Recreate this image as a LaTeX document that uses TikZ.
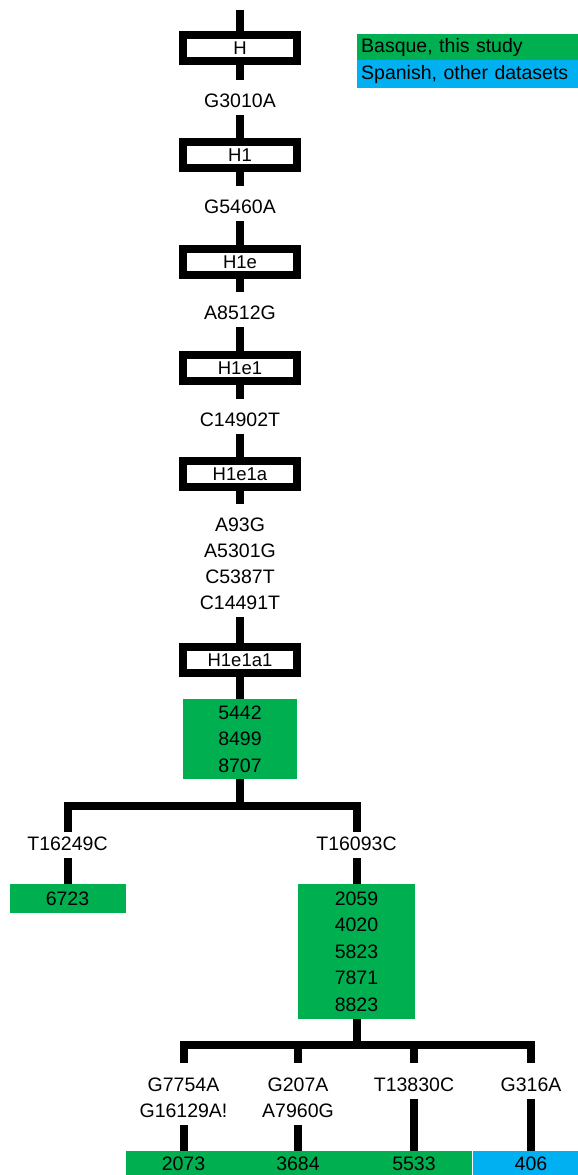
\documentclass[tikz,border=0pt]{standalone}
\usepackage{fontspec}
\setmainfont{Liberation Sans}
\definecolor{bgreen}{RGB}{0,176,80}
\definecolor{bblue}{RGB}{0,176,240}
\begin{document}
\begin{tikzpicture}[x=1pt,y=-1pt,
  hap/.style={draw, line width=8pt, fill=white, minimum width=114pt, minimum height=26pt, inner sep=0pt, font=\fontsize{18.5}{22}\selectfont},
  mut/.style={anchor=north, inner sep=0pt, align=center, font=\fontsize{19.5}{26}\selectfont},
  gbox/.style={fill=bgreen, inner sep=0pt, align=center, font=\fontsize{19.5}{26.3}\selectfont},
  bbox/.style={gbox, fill=bblue},
  leg/.style={anchor=north west, text width=225pt, inner xsep=4pt, inner ysep=0pt, align=left, font=\fontsize{19.5}{24}\selectfont},
  conn/.style={line width=8pt, line join=miter},
]
\useasboundingbox (0,0) rectangle (578,1175);
% legend
\node[leg, fill=bgreen, minimum height=26pt] (leg1) at (357,34) {Basque, this study};
\node[leg, fill=bblue, minimum height=28pt] (leg2) at (357,60) {Spanish, other datasets};
% haplogroup boxes
\node[hap] (H) at (240,48) {H};
\node[hap] (H1) at (240,155) {H1};
\node[hap] (H1e) at (240,262) {H1e};
\node[hap] (H1e1) at (240,368) {H1e1};
\node[hap] (H1e1a) at (240,474) {H1e1a};
\node[hap] (H1e1a1) at (240,660) {H1e1a1};
% mutation labels
\node[mut] (m1) at (240,94) {G3010A};
\node[mut] (m2) at (240,200) {G5460A};
\node[mut] (m3) at (240,306) {A8512G};
\node[mut] (m4) at (240,413) {C14902T};
\node[mut] (m5) at (240,518) {A93G\\A5301G\\C5387T\\C14491T};
% samples
\node[gbox, minimum width=114pt, minimum height=80pt] (g1) at (240,739) {5442\\8499\\8707};
\coordinate (j1) at (240,806);
\node[mut] (tl) at (67.5,837) {T16249C};
\node[mut] (tr) at (356.5,837) {T16093C};
\node[gbox, minimum width=116pt, minimum height=29pt] (s6723) at (67.5,898.5) {6723};
\node[gbox, minimum width=117pt, minimum height=135pt, font=\fontsize{19.5}{26.5}\selectfont] (g2) at (356.5,951.5) {2059\\4020\\5823\\7871\\8823};
\coordinate (j2) at (356.5,1045);
\node[mut] (la) at (183.5,1078) {G7754A\\G16129A!};
\node[mut] (lb) at (298,1078) {G207A\\A7960G};
\node[mut] (lc) at (414,1078) {T13830C};
\node[mut] (ld) at (531,1078) {G316A};
\node[gbox, minimum width=116pt, minimum height=26pt] (s2073) at (183.5,1164) {2073};
\node[gbox, minimum width=116pt, minimum height=26pt] (s3684) at (298,1164) {3684};
\node[gbox, minimum width=116pt, minimum height=26pt] (s5533) at (414,1164) {5533};
\node[bbox, minimum width=116pt, minimum height=26pt] (s406) at (531,1164) {406};
% connectors
\coordinate (top) at (240,10);
\draw[conn] (top) -- (H.north);
\draw[conn] (H.south) -- ([yshift=14pt]m1.north);
\draw[conn] ([yshift=-7pt]m1.south) -- (H1.north);
\draw[conn] (H1.south) -- ([yshift=14pt]m2.north);
\draw[conn] ([yshift=-7pt]m2.south) -- (H1e.north);
\draw[conn] (H1e.south) -- ([yshift=14pt]m3.north);
\draw[conn] ([yshift=-7pt]m3.south) -- (H1e1.north);
\draw[conn] (H1e1.south) -- ([yshift=14pt]m4.north);
\draw[conn] ([yshift=-7pt]m4.south) -- (H1e1a.north);
\draw[conn] (H1e1a.south) -- ([yshift=14pt]m5.north);
\draw[conn] ([yshift=-7pt]m5.south) -- (H1e1a1.north);
\draw[conn] (H1e1a1.south) -- (g1.north);
\draw[conn] (g1.south) -- (j1);
\draw[conn] ([yshift=5pt]tl.north) |- (j1) -| ([yshift=5pt]tr.north);
\draw[conn] ([yshift=-7pt]tl.south) -- (s6723.north);
\draw[conn] ([yshift=-7pt]tr.south) -- (g2.north);
\draw[conn] (g2.south) -- (j2);
\draw[conn] ([yshift=15pt]la.north) |- (j2) -| ([yshift=15pt]ld.north);
\draw[conn] ([yshift=15pt]lb.north) -- (lb.north |- j2);
\draw[conn] ([yshift=15pt]lc.north) -- (lc.north |- j2);
\draw[conn] ([yshift=-7pt]la.south) -- (s2073.north);
\draw[conn] ([yshift=-7pt]lb.south) -- (s3684.north);
\draw[conn] ([yshift=-7pt]lc.south) -- (s5533.north);
\draw[conn] ([yshift=-7pt]ld.south) -- (s406.north);
\end{tikzpicture}
\end{document}
